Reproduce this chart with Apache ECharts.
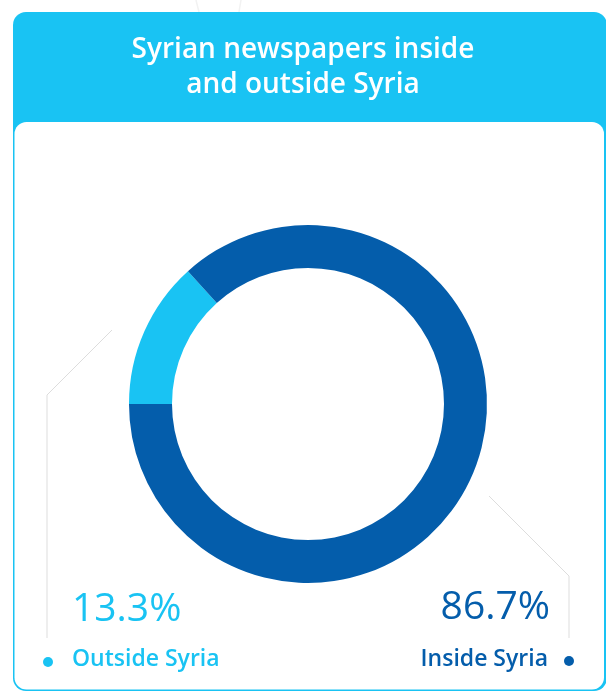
<!DOCTYPE html>
<html>
<head>
<meta charset="utf-8">
<style>
  html, body { margin: 0; padding: 0; background: #ffffff; }
  #chart { width: 606px; height: 693px; }
</style>
<script src="https://cdn.jsdelivr.net/npm/echarts@6/dist/echarts.min.js"></script>
</head>
<body>
<div id="chart"></div>
<script>
// Share of Syrian newspapers by place of publication (%)
const categories = ['Outside Syria', 'Inside Syria'];
const shares = [13.3, 86.7];
const titleLines = ['Syrian newspapers inside', 'and outside Syria'];

const CYAN = '#19c3f3';
const NAVY = '#045dab';
const FONT = '"Open Sans", Roboto, sans-serif';
const colors = [CYAN, NAVY];

const chart = echarts.init(document.getElementById('chart'), null, { renderer: 'canvas' });

const fmt = v => v.toFixed(1) + '%';

chart.setOption({
  animation: false,
  backgroundColor: '#ffffff',
  title: {
    text: titleLines.join('\n'),
    left: 'center',
    top: 28,
    textStyle: {
      color: '#ffffff',
      fontFamily: FONT,
      fontSize: 28,
      fontWeight: 600,
      lineHeight: 35
    }
  },
  graphic: [
    // faint strokes peeking above the card
    { type: 'line', z: 0, shape: { x1: 196, y1: 0, x2: 199, y2: 12 }, style: { stroke: '#f2f2f2', lineWidth: 1.5 } },
    { type: 'line', z: 0, shape: { x1: 241, y1: 0, x2: 239, y2: 12 }, style: { stroke: '#f2f2f2', lineWidth: 1.5 } },
    // card: cyan frame with header band
    { type: 'rect', z: 0, shape: { x: 13, y: 12, width: 594, height: 679, r: 13 }, style: { fill: CYAN } },
    { type: 'rect', z: 1, shape: { x: 14.5, y: 122, width: 589.5, height: 567.5, r: 12 }, style: { fill: '#ffffff' } },
    // leader lines
    { type: 'polyline', z: 2, shape: { points: [[112, 330], [47, 395], [47, 638]] }, style: { stroke: '#dddddd', lineWidth: 1, fill: null } },
    { type: 'polyline', z: 2, shape: { points: [[489, 496], [569, 576], [569, 638]] }, style: { stroke: '#dddddd', lineWidth: 1, fill: null } },
    // value labels
    { type: 'text', z: 3, style: { x: 72, y: 610, text: fmt(shares[0]), fill: colors[0], font: '400 39px ' + FONT, textAlign: 'left', textVerticalAlign: 'middle' } },
    { type: 'text', z: 3, style: { x: 550, y: 608, text: fmt(shares[1]), fill: colors[1], font: '400 39px ' + FONT, textAlign: 'right', textVerticalAlign: 'middle' } },
    // category labels with dots
    { type: 'text', z: 3, style: { x: 72, y: 659, text: categories[0], fill: colors[0], font: '600 23px ' + FONT, textAlign: 'left', textVerticalAlign: 'middle' } },
    { type: 'text', z: 3, style: { x: 548, y: 659, text: categories[1], fill: colors[1], font: '600 23px ' + FONT, textAlign: 'right', textVerticalAlign: 'middle' } },
    { type: 'circle', z: 3, shape: { cx: 48, cy: 662, r: 5 }, style: { fill: colors[0] } },
    { type: 'circle', z: 3, shape: { cx: 569, cy: 661, r: 5 }, style: { fill: colors[1] } }
  ],
  series: [{
    type: 'pie',
    z: 5,
    center: [308, 404],
    radius: [136, 179],
    startAngle: 180,
    clockwise: true,
    label: { show: false },
    labelLine: { show: false },
    emphasis: { disabled: true },
    silent: true,
    itemStyle: { borderWidth: 0 },
    data: categories.map((name, i) => ({
      name,
      value: shares[i],
      itemStyle: { color: colors[i] }
    }))
  }]
});
</script>
</body>
</html>
